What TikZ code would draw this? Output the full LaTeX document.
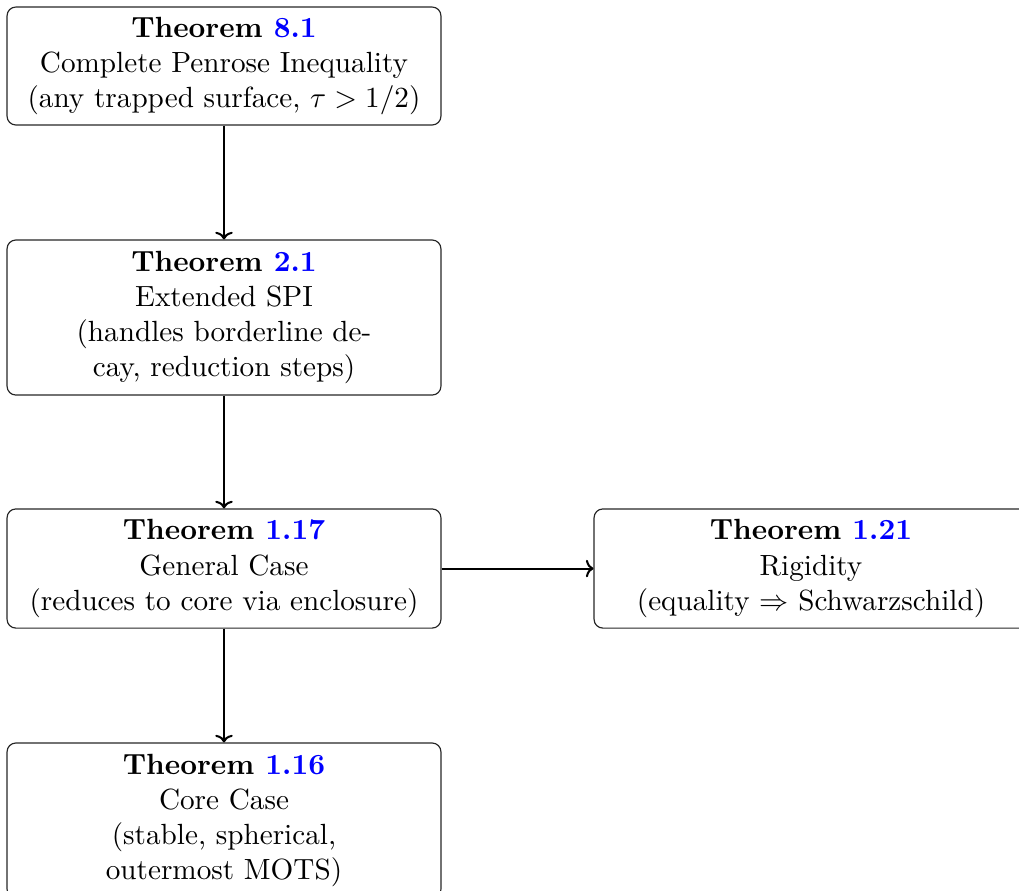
\documentclass[tikz,border=0pt]{standalone}
\usepackage{amsmath,amssymb}
\usetikzlibrary{arrows.meta}
\begin{document}
\begin{tikzpicture}[x=0.3425pt,y=-0.3425pt,
  thmbox/.style={draw=black!85, line width=0.4pt, rounded corners=3pt, align=center,
    minimum width=148.6pt, inner sep=0pt, font=\normalsize},
  link/.style={-{To[length=2.6pt,width=6pt]}, line width=0.7pt}]
\useasboundingbox (0,0) rectangle (1019,890);
\clip (0,0) rectangle (1019,890);
\node[thmbox, minimum height=40.4pt] (t81) at (224,66)
  {\textbf{Theorem \textcolor{blue}{8.1}}\\Complete Penrose Inequality\\(any trapped surface, $\tau>1/2$)};
\node[thmbox, minimum height=53.1pt] (t21) at (224,317.5)
  {\textbf{Theorem \textcolor{blue}{2.1}}\\Extended SPI\\(handles borderline de-\\cay, reduction steps)};
\node[thmbox, minimum height=40.8pt] (t117) at (224,568.5)
  {\textbf{Theorem \textcolor{blue}{1.17}}\\General Case\\(reduces to core via enclosure)};
\node[thmbox, minimum height=40.8pt] (t121) at (811,568.5)
  {\textbf{Theorem \textcolor{blue}{1.21}}\\Rigidity\\(equality $\Rightarrow$ Schwarzschild)};
\node[thmbox, minimum height=53.1pt] (t116) at (224,820.5)
  {\textbf{Theorem \textcolor{blue}{1.16}}\\Core Case\\(stable, spherical,\\outermost MOTS)};
\draw[link] (t81) -- (t21);
\draw[link] (t21) -- (t117);
\draw[link] (t117) -- (t116);
\draw[link] (t117) -- (t121);
\end{tikzpicture}
\end{document}
